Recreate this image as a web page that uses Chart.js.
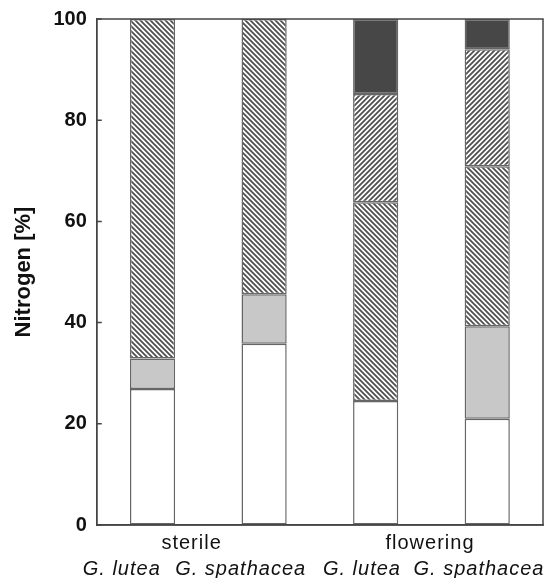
<!DOCTYPE html>
<html>
<head>
<meta charset="utf-8">
<script src="https://cdn.jsdelivr.net/npm/chart.js@4/dist/chart.umd.min.js"></script>
<style>
  html, body { margin: 0; padding: 0; background: #fff; }
  #wrap { width: 549px; height: 578px; position: relative; }
</style>
</head>
<body>
<div id="wrap"><canvas id="c" width="549" height="578"></canvas></div>
<script>
// ---- data ----
const categories = ["G. lutea", "G. spathacea", "G. lutea", "G. spathacea"];
const groupLabels = ["sterile", "flowering"];
const whiteVals   = [26.9, 35.8, 24.5, 21.0];
const greyVals    = [6.0, 9.8, 0, 18.3];
const backHatch   = [67.1, 54.4, 39.3, 31.6];
const fwdHatch    = [0, 0, 21.4, 23.1];
const darkVals    = [0, 0, 14.8, 6.0];
const yTicks      = [0, 20, 40, 60, 80, 100];

// label anchor positions on the category index axis
const speciesLabelPos = [-0.276, 0.79, 1.877, 2.926];
const groupLabelPos   = [0.35, 2.487];

function hatch(dir) {
  const s = 5;
  const c = document.createElement('canvas');
  c.width = s; c.height = s;
  const g = c.getContext('2d');
  g.fillStyle = '#fff';
  g.fillRect(0, 0, s, s);
  g.strokeStyle = '#505050';
  g.lineWidth = 1.8;
  g.beginPath();
  if (dir === 'back') {
    g.moveTo(-1, -1); g.lineTo(s + 1, s + 1);
    g.moveTo(-1, s - 1); g.lineTo(1, s + 1);
    g.moveTo(s - 1, -1); g.lineTo(s + 1, 1);
  } else {
    g.moveTo(-1, s + 1); g.lineTo(s + 1, -1);
    g.moveTo(-1, 1); g.lineTo(1, -1);
    g.moveTo(s - 1, s + 1); g.lineTo(s + 1, s - 1);
  }
  g.stroke();
  return g.createPattern(c, 'repeat');
}

const FONT = 'Liberation Sans, Arial, sans-serif';

const frame = {
  id: 'frame',
  afterDraw(chart) {
    const a = chart.chartArea, ctx = chart.ctx;
    const xs = chart.scales.x, ys = chart.scales.y;
    ctx.save();
    ctx.strokeStyle = '#444';
    ctx.lineWidth = 1.5;
    ctx.strokeRect(a.left, a.top, a.right - a.left, a.bottom - a.top);
    // inward tick marks
    ctx.beginPath();
    yTicks.forEach(v => {
      const py = ys.getPixelForValue(v);
      ctx.moveTo(a.left, py); ctx.lineTo(a.left + 5, py);
    });
    ctx.stroke();
    // category labels under the axis
    ctx.fillStyle = '#111';
    ctx.textAlign = 'center';
    ctx.textBaseline = 'alphabetic';
    if ('letterSpacing' in ctx) ctx.letterSpacing = '1px';
    ctx.font = '20px ' + FONT;
    groupLabels.forEach((t, i) => ctx.fillText(t, xs.getPixelForValue(groupLabelPos[i]), a.bottom + 24));
    ctx.font = 'italic 20px ' + FONT;
    categories.forEach((t, i) => ctx.fillText(t, xs.getPixelForValue(speciesLabelPos[i]), a.bottom + 50));
    ctx.restore();
  }
};

const border = '#666';
const common = { borderColor: border, borderWidth: 1.5, barPercentage: 0.405, categoryPercentage: 1, borderSkipped: false };

new Chart(document.getElementById('c'), {
  type: 'bar',
  data: {
    labels: categories,
    datasets: [
      Object.assign({ label: 'white', data: whiteVals, backgroundColor: '#ffffff' }, common),
      Object.assign({ label: 'grey', data: greyVals, backgroundColor: '#c8c8c8' }, common),
      Object.assign({ label: 'back', data: backHatch, backgroundColor: hatch('back') }, common),
      Object.assign({ label: 'fwd', data: fwdHatch, backgroundColor: hatch('fwd') }, common),
      Object.assign({ label: 'dark', data: darkVals, backgroundColor: '#474747' }, common)
    ]
  },
  options: {
    responsive: false,
    animation: false,
    layout: { padding: { top: 0, right: 6, left: 0, bottom: 53 } },
    plugins: { legend: { display: false }, tooltip: { enabled: false } },
    scales: {
      x: {
        stacked: true,
        offset: true,
        grid: { display: false, drawTicks: false },
        border: { display: true, color: '#444', width: 1.5 },
        ticks: { display: false }
      },
      y: {
        stacked: true,
        min: 0, max: 100,
        afterBuildTicks: (axis) => { axis.ticks = yTicks.map(v => ({ value: v })); },
        grid: { drawOnChartArea: false, drawTicks: false },
        border: { display: true, color: '#444', width: 1.5 },
        ticks: {
          padding: 10,
          color: '#111',
          font: { family: FONT, size: 20, weight: 'bold', lineHeight: 0.9 }
        },
        title: {
          display: true,
          text: 'Nitrogen [%]',
          color: '#111',
          font: { family: FONT, size: 22, weight: 'bold' },
          padding: { top: 11, bottom: 6 }
        }
      }
    }
  },
  plugins: [frame]
});
</script>
</body>
</html>
